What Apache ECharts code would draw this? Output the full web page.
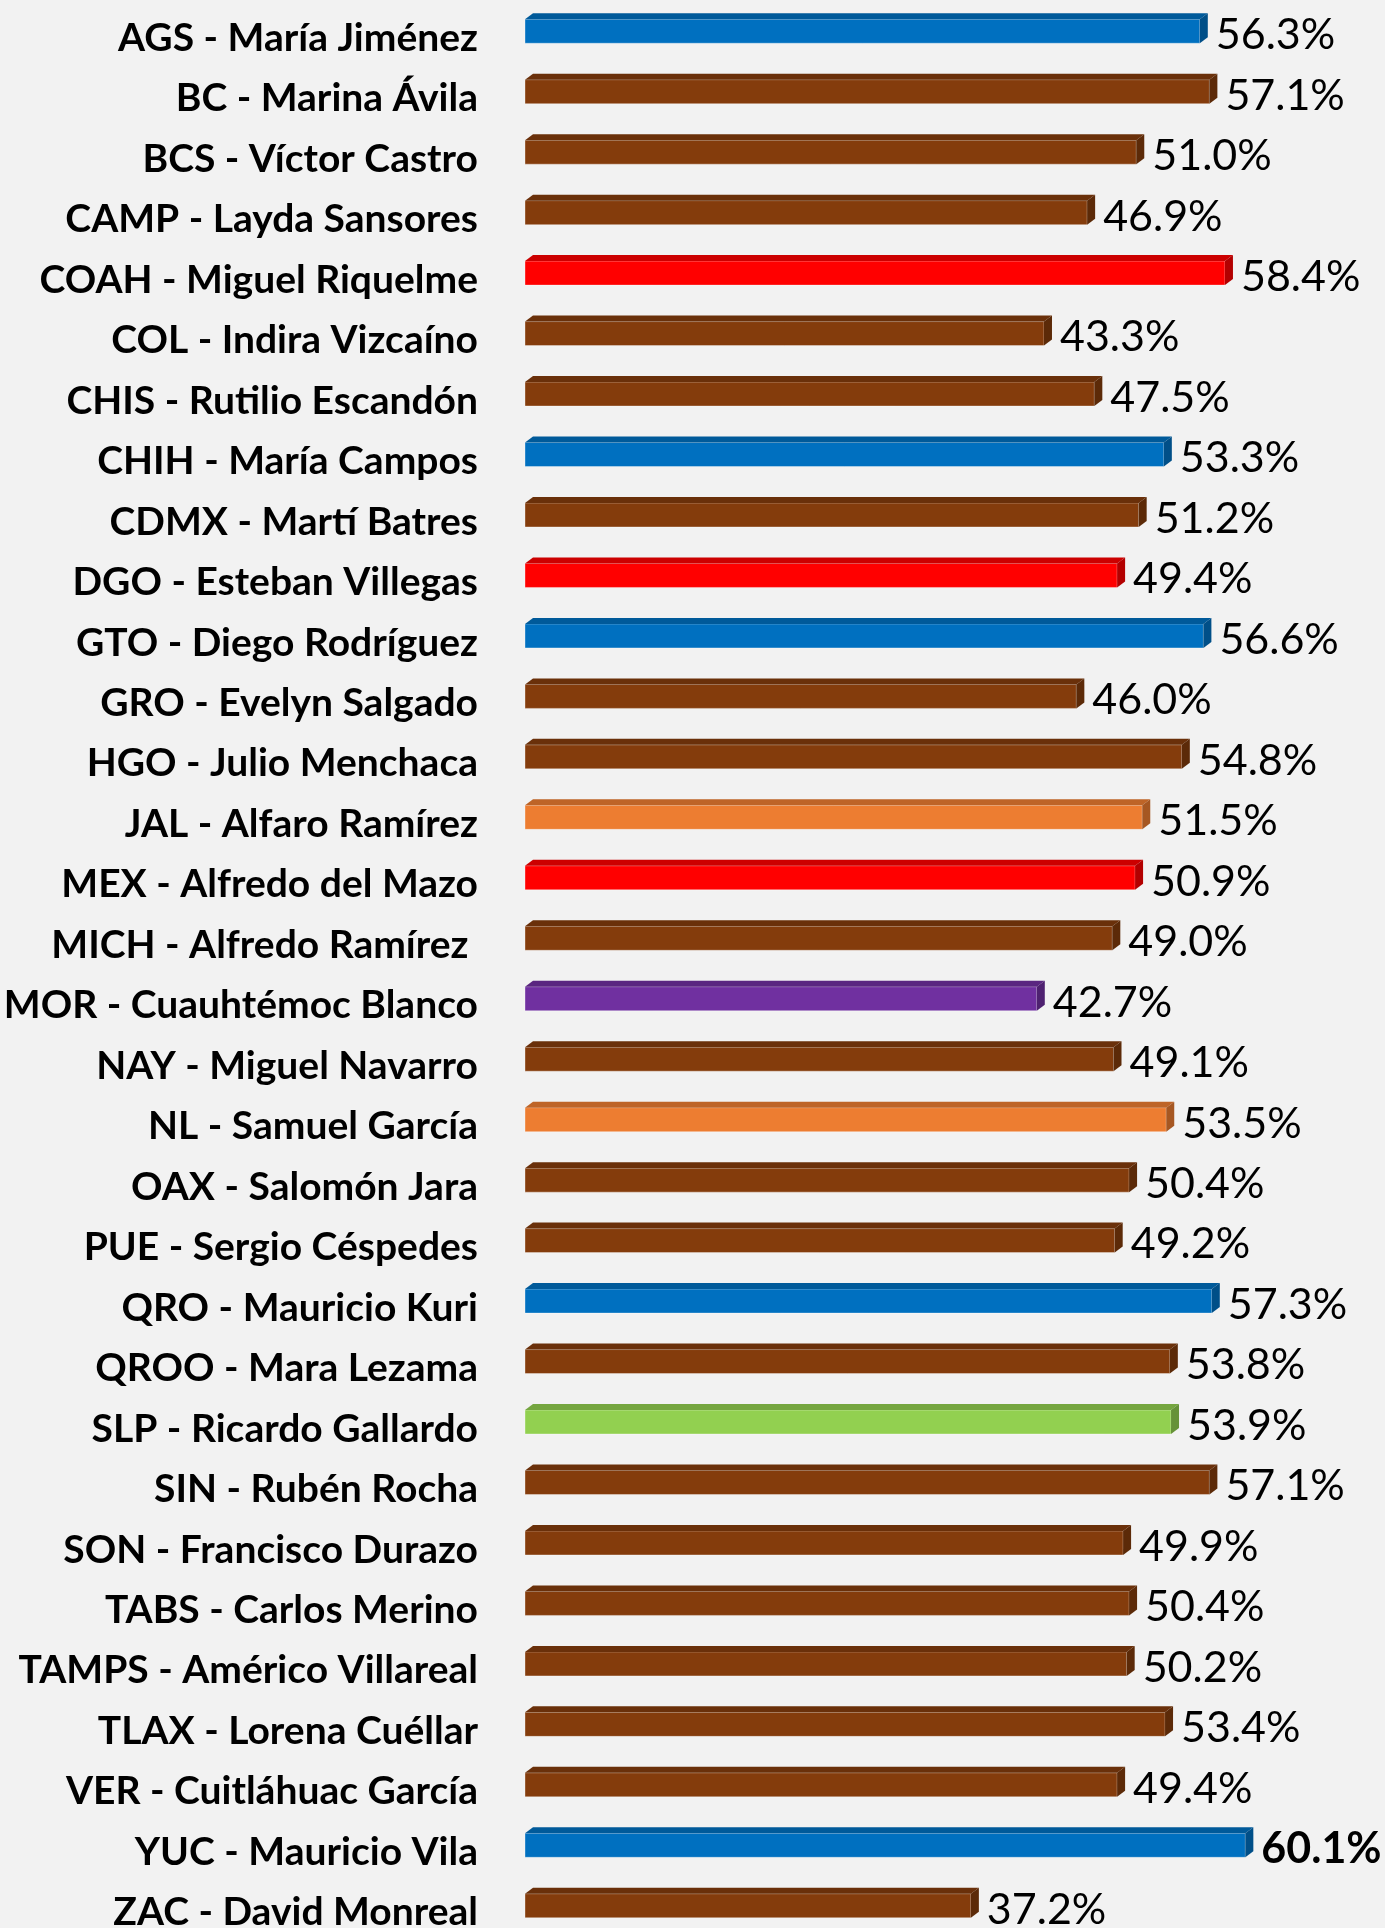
<!DOCTYPE html>
<html>
<head>
<meta charset="utf-8">
<script src="https://cdn.jsdelivr.net/npm/echarts@6/dist/echarts.min.js"></script>
<style>
  html, body { margin: 0; padding: 0; background: #f2f2f2; }
  #chart { width: 1385px; height: 1928px; }
</style>
</head>
<body>
<div id="chart"></div>
<script>
const categories = [
  "AGS - María Jiménez", "BC - Marina Ávila", "BCS - Víctor Castro", "CAMP - Layda Sansores",
  "COAH - Miguel Riquelme", "COL - Indira Vizcaíno", "CHIS - Rutilio Escandón", "CHIH - María Campos",
  "CDMX - Martí Batres", "DGO - Esteban Villegas", "GTO - Diego Rodríguez", "GRO - Evelyn Salgado",
  "HGO - Julio Menchaca", "JAL - Alfaro Ramírez", "MEX - Alfredo del Mazo", "MICH - Alfredo Ramírez ",
  "MOR - Cuauhtémoc Blanco", "NAY - Miguel Navarro", "NL - Samuel García", "OAX - Salomón Jara",
  "PUE - Sergio Céspedes", "QRO - Mauricio Kuri", "QROO - Mara Lezama", "SLP - Ricardo Gallardo",
  "SIN - Rubén Rocha", "SON - Francisco Durazo", "TABS - Carlos Merino", "TAMPS - Américo Villareal",
  "TLAX - Lorena Cuéllar", "VER - Cuitláhuac García", "YUC - Mauricio Vila", "ZAC - David Monreal"
];
const approval = [
  56.3, 57.1, 51.0, 46.9, 58.4, 43.3, 47.5, 53.3,
  51.2, 49.4, 56.6, 46.0, 54.8, 51.5, 50.9, 49.0,
  42.7, 49.1, 53.5, 50.4, 49.2, 57.3, 53.8, 53.9,
  57.1, 49.9, 50.4, 50.2, 53.4, 49.4, 60.1, 37.2
];
const party = [
  "PAN", "MORENA", "MORENA", "MORENA", "PRI", "MORENA", "MORENA", "PAN",
  "MORENA", "PRI", "PAN", "MORENA", "MORENA", "MC", "PRI", "MORENA",
  "PES", "MORENA", "MC", "MORENA", "MORENA", "PAN", "MORENA", "PVEM",
  "MORENA", "MORENA", "MORENA", "MORENA", "MORENA", "MORENA", "PAN", "MORENA"
];

// front / top / side colours per party
const partyColors = {
  PAN: ["#0070c0", "#005a9a", "#004f88"],
  MORENA: ["#843c0c", "#6a300a", "#5c2a08"],
  PRI: ["#ff0000", "#cc0000", "#b30000"],
  MC: ["#ed7d31", "#be6427", "#a65722"],
  PES: ["#7030a0", "#5a2680", "#4e2170"],
  PVEM: ["#92d050", "#75a640", "#669238"]
};

const maxVal = Math.max(...approval);
const barH = 24, dx = 8, dy = 6;

function renderBar(params, api) {
  const idx = api.value(0);
  const val = api.value(1);
  const s = api.coord([0, idx]);
  const e = api.coord([val, idx]);
  const x0 = s[0], x1 = e[0], c = s[1];
  const t = c - barH / 2, b = c + barH / 2;
  const col = partyColors[party[idx]];
  return {
    type: "group",
    children: [
      { type: "rect", shape: { x: x0, y: t, width: x1 - x0, height: barH },
        style: { fill: col[0], stroke: "rgba(255,255,255,0.35)", lineWidth: 1 } },
      { type: "polygon", shape: { points: [[x0, t], [x0 + dx, t - dy], [x1 + dx, t - dy], [x1, t]] },
        style: { fill: col[1] } },
      { type: "polygon", shape: { points: [[x1, t], [x1 + dx, t - dy], [x1 + dx, b - dy], [x1, b]] },
        style: { fill: col[2] } },
      { type: "text", x: x1 + dx + 8, y: c + 4,
        style: {
          text: val.toFixed(1) + "%",
          fill: "#000",
          font: (val === maxVal ? "bold " : "") + "43px Lato",
          verticalAlign: "middle",
          align: "left"
        } }
    ]
  };
}

const chart = echarts.init(document.getElementById("chart"));
chart.setOption({
  backgroundColor: "#f2f2f2",
  animation: false,
  grid: { left: 525, top: 1, width: 839, height: 1935, outerBoundsMode: "none" },
  xAxis: {
    type: "value", min: 0, max: 70, show: false,
    splitLine: { show: false }
  },
  yAxis: {
    type: "category",
    inverse: true,
    data: categories,
    axisLine: { show: false },
    axisTick: { show: false },
    axisLabel: {
      margin: 47,
      color: "#000",
      fontFamily: "Lato",
      fontWeight: "bold",
      fontSize: 39,
      verticalAlign: "top",
      lineHeight: 14
    }
  },
  series: [{
    type: "custom",
    renderItem: renderBar,
    clip: false,
    encode: { x: 1, y: 0 },
    data: approval.map((v, i) => [i, v])
  }]
});
</script>
</body>
</html>
